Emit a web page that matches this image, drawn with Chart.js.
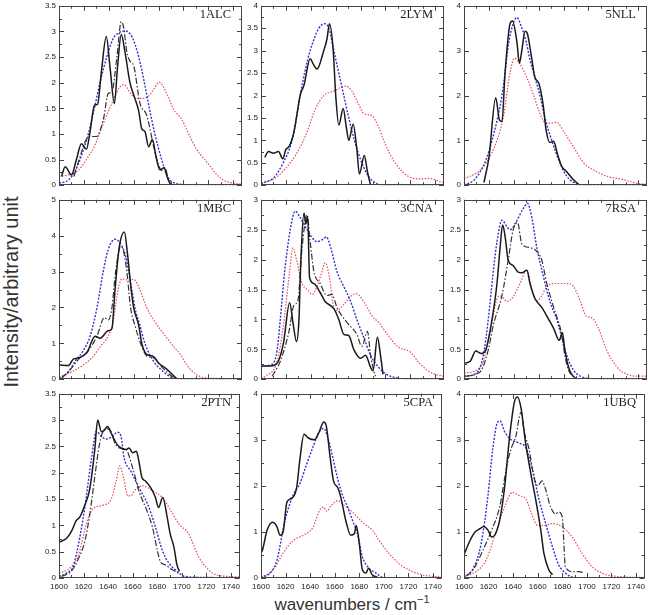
<!DOCTYPE html>
<html>
<head>
<meta charset="utf-8">
<script src="https://cdn.jsdelivr.net/npm/chart.js@4/dist/chart.umd.min.js"></script>
<style>
  body { margin: 0; background: #fff; width: 648px; height: 615px; overflow: hidden; position: relative; font-family: "Liberation Sans", Arial, sans-serif; }
  canvas { position: absolute; }
  .name { position: absolute; font-family: "Liberation Serif", "DejaVu Serif", serif; font-size: 12.5px; line-height: 12px; color: #222; }
  #ytitle { position: absolute; left: 11px; top: 292px; transform: translate(-50%, -50%) rotate(-90deg); white-space: nowrap; font-size: 20px; color: #333; }
  #xtitle { position: absolute; left: 352px; top: 604px; transform: translate(-50%, -50%); white-space: nowrap; font-size: 17px; color: #333; }
  #xtitle sup { font-size: 11px; }
</style>
</head>
<body>
<div id="ytitle">Intensity/arbitrary unit</div>
<div id="xtitle">wavenumbers / cm<sup>−1</sup></div>
<script>
// panel names and y axes
const panelNames = ['1ALC', '2LYM', '5NLL', '1MBC', '3CNA', '7RSA', '2PTN', '5CPA', '1UBQ'];
const yMax = [3.5, 4, 4, 5, 3, 3, 3.5, 4, 4];
const yStep = [0.5, 0.5, 1, 1, 0.5, 0.5, 0.5, 1, 1];
const xMin = 1600, xMax = 1747, xStep = 20;

// [wavenumber, intensity]
const alc1Solid = [[1602,0.17],[1605,0.36],[1610,0.2],[1614,0.5],[1618,0.81],[1622,0.7],[1625,1.05],[1628.5,1.56],[1631,1.58],[1634,2.2],[1638,2.9],[1641,2.3],[1644.5,1.59],[1647,2.3],[1650,2.94],[1653,2.6],[1657,2.0],[1660,1.76],[1664,1.45],[1666.5,1.1],[1669,1.05],[1672,0.75],[1675,0.89],[1678,0.55],[1681,0.3],[1684.5,0.34],[1687,0.15],[1690,0]];
const alc1Dash = [[1612,0.17],[1618,0.64],[1621,0.85],[1625,0.95],[1630,0.95],[1636,1.33],[1639.5,1.79],[1642.5,1.82],[1646.5,2.5],[1650,3.19],[1652,3.07],[1654.5,2.6],[1657,2.42],[1660,2.33],[1665,1.6],[1670.5,1.36],[1676,0.76],[1678.5,0.51],[1682.5,0.29],[1685,0.34],[1688,0.1],[1690,0.01]];
const alc1Blue = [[1600,0.04],[1607.5,0.1],[1614,0.33],[1623.5,1.0],[1628.5,1.51],[1633,2.01],[1638.5,2.51],[1643.5,2.86],[1648,2.97],[1653,3.01],[1658.5,2.9],[1664,2.51],[1668.5,2.01],[1672.5,1.51],[1677,1.0],[1682.5,0.5],[1686.5,0.2],[1692,0.05],[1703,0.01],[1747,0]];
const alc1Red = [[1600,0.17],[1607.5,0.2],[1615.5,0.29],[1622,0.5],[1629,0.79],[1635.5,1.2],[1642.5,1.6],[1649,1.92],[1652,1.96],[1658.5,1.76],[1664,1.69],[1670.5,1.71],[1676,1.87],[1680.5,2.01],[1686.5,1.79],[1692,1.48],[1698.5,1.29],[1704,1.01],[1710.5,0.7],[1717,0.5],[1721,0.38],[1727,0.2],[1732,0.1],[1740,0.04],[1747,0.02]];

const lym2Solid = [[1603,0.62],[1606,0.75],[1610,0.71],[1614,0.75],[1617.5,0.59],[1620,0.8],[1622.5,0.86],[1626.5,1.19],[1631.5,2.01],[1634.5,2.23],[1639.5,2.82],[1642,2.7],[1645,2.59],[1650.5,3.01],[1653,3.26],[1655,3.6],[1658,3.01],[1660,2.01],[1662.5,1.34],[1666,1.71],[1668.5,1.3],[1670.5,1.0],[1674,1.36],[1677,0.8],[1679,0.25],[1683,0.66],[1685.5,0.3],[1688,0]];
const lym2Blue = [[1600,0.04],[1602,0.06],[1610,0.16],[1618,0.51],[1625,1.0],[1628.5,1.5],[1631.5,2.01],[1635,2.5],[1639.5,3.0],[1646.5,3.5],[1651,3.6],[1654.5,3.5],[1658.5,3.0],[1662.5,2.5],[1666.5,2.0],[1670.5,1.5],[1675,1.0],[1681,0.5],[1686.5,0.19],[1692,0.05],[1697,0],[1747,0]];
const lym2Red = [[1600,0.04],[1602,0.05],[1613,0.19],[1623.5,0.5],[1630.5,0.8],[1637,1.19],[1643.5,1.69],[1650.5,2.0],[1658.5,2.1],[1668,2.21],[1673,2.1],[1678.5,1.8],[1682.5,1.6],[1689,1.55],[1694.5,1.3],[1698.5,1.0],[1705.5,0.6],[1713.5,0.3],[1723,0.15],[1730,0.14],[1735,0.15],[1742,0.1],[1747,0.05]];

const nll5Solid = [[1616,0.06],[1620,0.61],[1625.5,1.95],[1628.5,1.45],[1630.5,1.42],[1633,2.51],[1637,3.6],[1639,3.66],[1642.5,3.19],[1644.5,2.72],[1646.5,3.01],[1649,3.43],[1651,3.37],[1654,2.9],[1657,2.4],[1660,2.28],[1663.5,1.81],[1666,1.22],[1669,0.95],[1672,0.98],[1675,0.7],[1678.5,0.42],[1682.5,0.3],[1688,0.12],[1692,0.02]];
const nll5Blue = [[1600,0.01],[1607.5,0.1],[1613,0.3],[1618,0.59],[1622.5,1.0],[1627,1.5],[1630.5,2.0],[1633,2.51],[1635,3.01],[1638.5,3.51],[1642.5,3.74],[1646.5,3.5],[1650,3.19],[1653,2.8],[1657,2.4],[1661,2.0],[1665,1.5],[1670.5,1.0],[1677,0.5],[1682.5,0.2],[1690.5,0.03],[1696,0],[1747,0]];
const nll5Red = [[1600,0.14],[1611.5,0.3],[1618,0.5],[1626.5,1.0],[1631.5,1.5],[1637,2.51],[1640.5,2.83],[1645,2.7],[1650.5,2.4],[1656,2.0],[1661,1.6],[1665,1.4],[1669,1.38],[1674.5,1.4],[1680,1.2],[1688,0.85],[1696,0.5],[1704,0.34],[1714.5,0.2],[1725.5,0.14],[1731,0.1],[1739,0.04],[1747,0.02]];

const mbc1Solid = [[1600,0.4],[1607.5,0.38],[1611.5,0.56],[1616.5,0.6],[1622.5,0.75],[1629,1.2],[1633,1.14],[1639.5,1.35],[1642.5,1.41],[1645,2.49],[1648.5,3.7],[1652.5,4.1],[1655,3.5],[1658,2.49],[1660,1.99],[1664,1.5],[1666.5,1.0],[1670.5,0.69],[1676,0.63],[1680,0.45],[1685.5,0.31],[1690.5,0.15],[1694.5,0.02]];
const mbc1Dash = [[1602,0.02],[1610,0.31],[1617,0.6],[1622.5,0.75],[1630.5,1.2],[1636.5,1.72],[1639.5,1.65],[1642.5,1.99],[1645.5,3.0],[1649.5,3.7],[1651.5,3.61],[1654.5,3.0],[1657.5,1.99],[1661,1.5],[1665.5,1.0],[1670.5,0.65],[1676,0.6],[1681,0.4],[1686.5,0.2],[1692,0.05],[1694.5,0]];
const mbc1Blue = [[1600,0.02],[1607.5,0.2],[1613,0.5],[1619.5,0.8],[1625,1.2],[1630.5,1.99],[1635.5,3.0],[1639.5,3.61],[1645,3.9],[1647.5,3.86],[1653,3.5],[1656,3.0],[1658.5,2.49],[1661,1.99],[1665,1.5],[1669,1.0],[1676,0.5],[1681,0.3],[1688,0.1],[1694.5,0.02],[1700,0],[1747,0]];
const mbc1Red = [[1600,0.06],[1610,0.2],[1619.5,0.4],[1626.5,0.6],[1633,0.9],[1639.5,1.2],[1643.5,1.6],[1646.5,2.31],[1650.5,2.8],[1656,2.76],[1660,2.78],[1665,2.49],[1670.5,1.99],[1677,1.6],[1685.5,1.2],[1693.5,0.85],[1697.5,0.69],[1702.5,0.4],[1709.5,0.15],[1716,0.05],[1730,0.02],[1747,0.01]];

const cna3Solid = [[1601,0.22],[1607.5,0.22],[1613,0.27],[1618,0.6],[1623,1.28],[1626,0.9],[1628.5,0.63],[1630.5,1.0],[1632,1.99],[1634.5,2.78],[1636,2.6],[1637.5,2.72],[1639,1.7],[1642.5,1.6],[1647.5,1.45],[1651.5,1.3],[1658.5,1.18],[1662.5,1.0],[1666.5,0.75],[1670.5,0.73],[1674.5,0.5],[1680,0.35],[1684,0.4],[1688,0.2],[1690,0.14],[1693.5,0.7],[1696,0.4],[1698,0.08]];
const cna3Dash = [[1609,0.05],[1615.5,0.3],[1622.5,0.8],[1626.5,1.24],[1629.5,1.3],[1633,2.2],[1637,2.75],[1639.5,2.3],[1642.5,1.8],[1647.5,1.6],[1653,1.4],[1657,1.42],[1661,1.2],[1669,0.95],[1677,0.75],[1681,0.55],[1685.5,0.8],[1688,0.4],[1690.5,0.15],[1692,0.05]];
const cna3Blue = [[1600,0.22],[1609,0.25],[1613,0.49],[1615.5,1.0],[1619,1.8],[1623.5,2.5],[1627.5,2.81],[1631.5,2.7],[1637,2.5],[1645,2.3],[1650.5,2.35],[1652.5,2.38],[1656,2.2],[1661,1.8],[1666.5,1.55],[1672,1.3],[1677,1.0],[1682.5,0.7],[1688,0.4],[1694.5,0.2],[1701,0.08],[1709.5,0.02],[1720,0],[1747,0]];
const cna3Red = [[1600,0.02],[1603.5,0.05],[1613,0.3],[1618,0.9],[1623,1.8],[1625.5,2.2],[1628.5,2.0],[1633,1.6],[1637,1.5],[1641,1.42],[1645,1.55],[1649,1.8],[1651.5,1.95],[1655,1.7],[1658.5,1.2],[1661,1.15],[1666.5,1.25],[1673,1.4],[1676.5,1.43],[1682.5,1.3],[1689.5,1.05],[1694.5,0.95],[1701.5,0.75],[1709.5,0.55],[1720,0.45],[1728,0.25],[1735,0.13],[1740,0.08],[1747,0.05]];

const rsa7Solid = [[1601,0.27],[1605,0.3],[1609.5,0.47],[1614,0.43],[1617.5,0.49],[1622.5,1.0],[1626.5,1.6],[1629,2.2],[1631,2.58],[1633,2.39],[1635.5,1.99],[1639.5,1.9],[1643.5,1.79],[1646.5,1.78],[1650.5,1.82],[1653,1.6],[1657,1.35],[1662.5,1.2],[1668,1.0],[1672,0.85],[1676.5,0.65],[1679,0.78],[1681,0.49],[1684,0.2],[1686.5,0.08],[1689.5,0.02]];
const rsa7Dash = [[1601,0.05],[1609,0.08],[1614,0.15],[1619.5,0.49],[1623.5,0.9],[1630.5,1.4],[1635.5,1.99],[1639.5,2.5],[1643,2.62],[1646.5,2.26],[1653,2.2],[1660,2.1],[1662.5,1.99],[1666.5,1.6],[1672,1.2],[1676,0.95],[1678.5,0.75],[1681,0.4],[1684,0.15],[1688,0.04]];
const rsa7Blue = [[1600,0.05],[1610,0.1],[1615.5,0.4],[1619.5,1.0],[1623,1.7],[1626.5,2.3],[1630.5,2.66],[1634.5,2.55],[1637,2.5],[1641,2.6],[1647.5,2.85],[1651,2.94],[1654.5,2.7],[1658.5,2.2],[1664,1.7],[1669,1.3],[1674.5,1.0],[1678.5,0.7],[1682.5,0.4],[1688,0.15],[1693.5,0.05],[1701.5,0.01],[1710,0],[1747,0]];
const rsa7Red = [[1600,0.1],[1610,0.15],[1615.5,0.3],[1621,0.8],[1627.5,1.38],[1629.5,1.39],[1634.5,1.3],[1639.5,1.38],[1645,1.6],[1650.5,1.83],[1654.5,1.5],[1658.5,1.3],[1662.5,1.4],[1666.5,1.55],[1672,1.6],[1682.5,1.6],[1688,1.55],[1693.5,1.3],[1698.5,1.05],[1702.5,1.03],[1708,0.85],[1714.5,0.49],[1723,0.2],[1731,0.08],[1741.5,0.05],[1747,0.05]];

const ptn2Solid = [[1600,0.68],[1606,0.75],[1610,0.88],[1614,1.09],[1617,1.16],[1621,1.38],[1625,1.69],[1629,2.41],[1631.5,3.0],[1634.5,2.78],[1637,2.81],[1639.5,2.88],[1642.5,2.75],[1645,2.63],[1647.5,2.53],[1650.5,2.47],[1654.5,2.44],[1657,2.47],[1660,2.38],[1663,2.41],[1665,2.22],[1667.5,1.91],[1670.5,1.84],[1674.5,1.72],[1678.5,1.53],[1681,1.34],[1684.5,1.53],[1688,1.16],[1690.5,0.84],[1693.5,0.59],[1696,0.25],[1698,0.13]];
const ptn2Dash = [[1602,0.03],[1610,0.13],[1615.5,0.35],[1621,0.7],[1625,1.2],[1629,1.9],[1633,2.55],[1636,2.79],[1639,2.84],[1642.5,2.78],[1645,2.59],[1649,2.47],[1654.5,2.44],[1660,2.09],[1665,1.66],[1672,1.25],[1676,0.97],[1680,0.53],[1682.5,0.31],[1686.5,0.25],[1692,0.16],[1697.5,0.09]];
const ptn2Blue = [[1600,0.03],[1606,0.09],[1611.5,0.22],[1617,0.78],[1621,1.34],[1626.5,2.28],[1630.5,2.79],[1634.5,2.69],[1638.5,2.64],[1643.5,2.69],[1647.5,2.77],[1650.5,2.69],[1653,2.28],[1658.5,2.03],[1665,1.72],[1672,1.41],[1678.5,0.97],[1684,0.53],[1689.5,0.28],[1696,0.13],[1702.5,0.03],[1720,0.01],[1747,0]];
const ptn2Red = [[1600,0.09],[1609,0.19],[1615.5,0.41],[1621,0.91],[1625,1.22],[1629,1.34],[1635.5,1.38],[1642.5,1.5],[1646.5,1.84],[1649.5,2.13],[1652.5,1.91],[1656,1.56],[1658.5,1.56],[1662.5,1.69],[1668,1.75],[1676,1.66],[1684,1.53],[1689.5,1.34],[1697.5,1.03],[1705.5,0.84],[1713.5,0.41],[1721.5,0.16],[1728,0.06],[1747,0.02]];

const cpa5Solid = [[1600,0.55],[1601,0.59],[1605,1.04],[1609.5,1.21],[1613,1.11],[1615.5,0.93],[1618,1.0],[1621,1.64],[1623.5,1.71],[1629,1.96],[1631.5,2.54],[1635,3.12],[1638.5,3.04],[1643.5,3.0],[1647.5,3.18],[1651,3.39],[1653,3.32],[1656,2.68],[1659,2.11],[1662.5,1.96],[1665,1.75],[1669,1.25],[1673,0.93],[1676,0.96],[1677.5,1.14],[1680,0.75],[1682.5,0.18],[1685.5,0.11],[1687.5,0.21],[1690.5,0.07],[1694.5,0.02]];
const cpa5Blue = [[1600,0.01],[1601,0.02],[1607.5,0.11],[1613,0.39],[1619.5,1.25],[1626.5,1.82],[1631.5,2.04],[1637,2.46],[1642.5,2.86],[1647.5,3.18],[1651,3.25],[1654.5,3.04],[1658.5,2.61],[1662.5,2.14],[1666.5,1.79],[1670.5,1.54],[1674.5,1.25],[1678.5,0.96],[1682.5,0.46],[1688,0.21],[1693.5,0.11],[1698.5,0.02],[1710,0],[1747,0]];
const cpa5Red = [[1600,0.01],[1610,0.18],[1618,0.54],[1626.5,0.82],[1634.5,0.93],[1642.5,1.11],[1647.5,1.46],[1651,1.54],[1653.5,1.45],[1657,1.57],[1662.5,1.68],[1668,1.57],[1674.5,1.43],[1682.5,1.21],[1690.5,1.04],[1696,0.82],[1704,0.54],[1712,0.32],[1720,0.18],[1731,0.07],[1747,0.02]];

const ubq1Solid = [[1600,0.5],[1601,0.57],[1605,0.82],[1609,1.0],[1613,1.07],[1616,1.12],[1619.5,1.04],[1622.5,0.89],[1625.5,0.95],[1629,1.25],[1633,1.96],[1637,3.04],[1641,3.82],[1643.5,3.93],[1646.5,3.68],[1650,2.96],[1654.5,2.25],[1658.5,1.68],[1662.5,1.04],[1665,0.54],[1669,0.18],[1672,0.07]];
const ubq1Dash = [[1602,0.04],[1607.5,0.18],[1615.5,0.61],[1622.5,1.04],[1629,1.54],[1635,2.46],[1638.5,2.82],[1642.5,3.11],[1645,3.5],[1646.5,3.6],[1649,3.18],[1653,2.79],[1657,2.18],[1660,2.0],[1663.5,2.11],[1666,1.96],[1670.5,1.54],[1674.5,1.39],[1677,1.43],[1680,1.32],[1682.5,0.25],[1688,0.14],[1693.5,0.14],[1697.5,0.11]];
const ubq1Blue = [[1600,0.02],[1607.5,0.21],[1614,0.75],[1619.5,1.79],[1623.5,2.82],[1627.5,3.39],[1629.5,3.41],[1633,3.18],[1638.5,3.0],[1645,2.93],[1650.5,2.82],[1656,2.32],[1661,1.71],[1666.5,1.18],[1672,0.68],[1677,0.29],[1682.5,0.11],[1688,0.02],[1700,0],[1747,0]];
const ubq1Red = [[1600,0.04],[1610,0.14],[1618,0.39],[1626.5,1.04],[1633,1.54],[1639.5,1.86],[1645,1.79],[1650.5,1.71],[1654.5,1.43],[1660,1.14],[1665,1.14],[1672,1.18],[1680,1.11],[1688,0.89],[1696,0.54],[1704,0.25],[1712,0.11],[1723,0.04],[1747,0.01]];

const panelSeries = [
  [alc1Solid, alc1Dash, alc1Blue, alc1Red],
  [lym2Solid, null, lym2Blue, lym2Red],
  [nll5Solid, null, nll5Blue, nll5Red],
  [mbc1Solid, mbc1Dash, mbc1Blue, mbc1Red],
  [cna3Solid, cna3Dash, cna3Blue, cna3Red],
  [rsa7Solid, rsa7Dash, rsa7Blue, rsa7Red],
  [ptn2Solid, ptn2Dash, ptn2Blue, ptn2Red],
  [cpa5Solid, null, cpa5Blue, cpa5Red],
  [ubq1Solid, ubq1Dash, ubq1Blue, ubq1Red]
];

// line styles: solid black, dash-dot black, blue dotted, red dotted
const lineStyles = [
  { borderColor: '#1a1a1a', borderWidth: 1.5, borderDash: [] },
  { borderColor: '#333333', borderWidth: 1.2, borderDash: [6, 2, 1.5, 2] },
  { borderColor: '#3030d0', borderWidth: 1.4, borderDash: [2, 1.5] },
  { borderColor: '#e84a5f', borderWidth: 1.2, borderDash: [1.5, 1.5] }
];

const colLeft = [59, 261, 464];
const rowTop = [4, 198, 392];
const plotW = 183, plotH = 186;
const padL = 28, padT = 6;
const tickFont = { family: '"Liberation Sans", Arial, sans-serif', size: 8 };

// plain numbers, no thousands separator, no trailing zeros
function plainLabel(value) {
  return String(Math.round(value * 100) / 100);
}

// border box and inward ticks on all four sides (gnuplot style)
const framePlugin = {
  id: 'frame',
  afterDatasetsDraw(chart) {
    const { ctx, chartArea: a, scales: { x, y } } = chart;
    const step = chart.options.scales.y.ticks.stepSize;
    const top = chart.options.scales.y.max;
    ctx.save();
    ctx.strokeStyle = '#444';
    ctx.lineWidth = 1;
    ctx.strokeRect(Math.round(a.left) + 0.5, Math.round(a.top) + 0.5, Math.round(a.width) - 1, Math.round(a.height) - 1);
    ctx.beginPath();
    for (let v = xMin; v <= 1740; v += 10) {
      const px = Math.round(x.getPixelForValue(v)) + 0.5;
      const len = v % 20 === 0 ? 5 : 3;
      ctx.moveTo(px, a.bottom); ctx.lineTo(px, a.bottom - len);
      ctx.moveTo(px, a.top); ctx.lineTo(px, a.top + len);
    }
    const n = Math.round(top / (step / 2));
    for (let i = 0; i <= n; i++) {
      const py = Math.round(y.getPixelForValue(i * step / 2)) + 0.5;
      const len = i % 2 === 0 ? 5 : 3;
      ctx.moveTo(a.left, py); ctx.lineTo(a.left + len, py);
      ctx.moveTo(a.right, py); ctx.lineTo(a.right - len, py);
    }
    ctx.stroke();
    ctx.restore();
  }
};

panelNames.forEach((name, i) => {
  const col = i % 3, row = Math.floor(i / 3);
  const bottomRow = row === 2;
  const canvas = document.createElement('canvas');
  canvas.width = padL + plotW + 2;
  canvas.height = padT + plotH + (bottomRow ? 20 : 3);
  canvas.style.left = (colLeft[col] - padL) + 'px';
  canvas.style.top = (rowTop[row] - padT) + 'px';
  document.body.appendChild(canvas);

  const label = document.createElement('div');
  label.className = 'name';
  label.textContent = name;
  label.style.right = (648 - (colLeft[col] + plotW - 11)) + 'px';
  label.style.top = (rowTop[row] + 4) + 'px';
  document.body.appendChild(label);

  const datasets = [];
  panelSeries[i].forEach((series, k) => {
    if (!series) return;
    datasets.push(Object.assign({
      data: series,
      pointRadius: 0,
      fill: false,
      cubicInterpolationMode: 'monotone'
    }, lineStyles[k]));
  });

  new Chart(canvas, {
    type: 'line',
    data: { datasets: datasets },
    options: {
      responsive: false,
      animation: false,
      devicePixelRatio: 1,
      layout: { padding: { left: 0, top: padT, right: 2, bottom: bottomRow ? 2 : 3 } },
      plugins: { legend: { display: false }, tooltip: { enabled: false } },
      scales: {
        x: {
          type: 'linear', min: xMin, max: xMax,
          afterFit(s) { s.height = bottomRow ? 18 : 0; },
          grid: { display: false, drawTicks: false },
          border: { display: false },
          ticks: { display: bottomRow, stepSize: xStep, includeBounds: false, autoSkip: false, maxRotation: 0, font: tickFont, color: '#222', padding: 4, callback: plainLabel }
        },
        y: {
          min: 0, max: yMax[i],
          afterFit(s) { s.width = padL; },
          grid: { display: false, drawTicks: false },
          border: { display: false },
          ticks: { stepSize: yStep[i], font: tickFont, color: '#222', padding: 3, callback: plainLabel }
        }
      }
    },
    plugins: [framePlugin]
  });
});
</script>
</body>
</html>
